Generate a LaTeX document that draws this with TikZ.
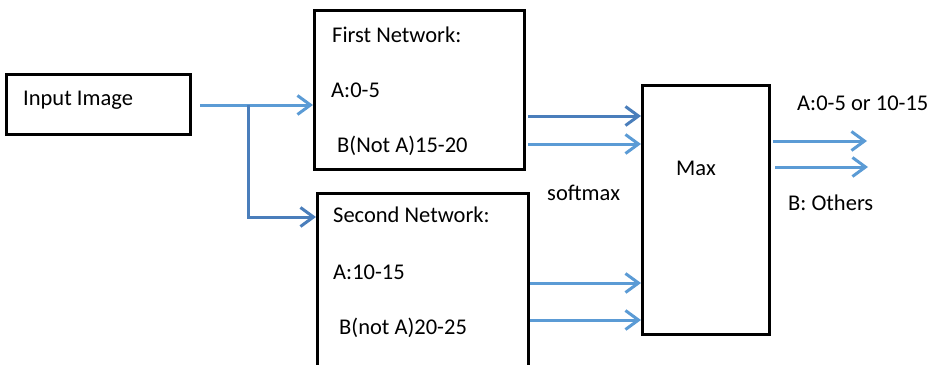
\documentclass[tikz,border=0pt]{standalone}
\usepackage{fontspec}
\setmainfont{Carlito}
\usetikzlibrary{arrows.meta}
\definecolor{flow}{RGB}{91,155,213}
\definecolor{flowdark}{RGB}{74,126,187}
\tikzset{
  box/.style={draw=black, line width=3.2pt, minimum width=0pt, minimum height=0pt, inner sep=0pt},
  lbl/.style={anchor=base west, inner sep=0pt, font=\fontsize{22.5}{27}\selectfont},
  arr/.style={draw=flow, line width=3pt,
    -{Straight Barb[length=13pt, width=19pt, line width=3pt]}},
  arrdark/.style={arr, draw=flowdark},
}
\begin{document}
\begin{tikzpicture}[x=1pt, y=-1pt]
  \useasboundingbox (0,0) rectangle (936,364);
  \clip (0,0) rectangle (936,364);

  % boxes
  \node[box, minimum width=184pt, minimum height=60pt, anchor=north west] (input) at (5,73) {};
  \node[box, minimum width=210pt, minimum height=159pt, anchor=north west] (first) at (313,9) {};
  \node[box, minimum width=211pt, minimum height=190pt, anchor=north west] (second) at (316,192) {};
  \node[box, minimum width=127pt, minimum height=249pt, anchor=north west] (maxbox) at (641,84) {};

  % texts
  \node[lbl] (tin) at (23,105) {Input Image};
  \node[lbl] (tf1) at (332,42) {First Network:};
  \node[lbl] (tf2) at (331,97) {A:0-5};
  \node[lbl] (tf3) at (337,152) {B(Not A)15-20};
  \node[lbl] (ts1) at (333,222) {Second Network:};
  \node[lbl] (ts2) at (333,279) {A:10-15};
  \node[lbl] (ts3) at (339,334) {B(not A)20-25};
  \node[lbl] (tsm) at (547,200) {softmax};
  \node[lbl] (tmax) at (676,175) {Max};
  \node[lbl] (tA) at (797,110) {A:0-5 or 10-15};
  \node[lbl] (tB) at (788,210) {B: Others};

  % free ends of the two outputs and the branching point
  \coordinate (split) at (248,105);
  \coordinate (outA) at (867,141);
  \coordinate (outB) at (868,167);

  % input to both networks
  \draw[arr] (input.east |- split) ++(8,0) -- (first.west |- split);
  \draw[arrdark] (split) |- (second.west |- 0,217);

  % networks to max
  \draw[arrdark] (first.east |- 0,116) ++(2,0) -- (maxbox.west |- 0,116);
  \draw[arr] (first.east |- 0,144) ++(2,0) -- (maxbox.west |- 0,144);
  \draw[arr] (second.east |- 0,283) -- (maxbox.west |- 0,283);
  \draw[arr] (second.east |- 0,320) -- (maxbox.west |- 0,320);

  % outputs
  \draw[arr] (maxbox.east |- outA) ++(2,0) -- (outA);
  \draw[arr] (maxbox.east |- outB) ++(4,0) -- (outB);
\end{tikzpicture}
\end{document}
